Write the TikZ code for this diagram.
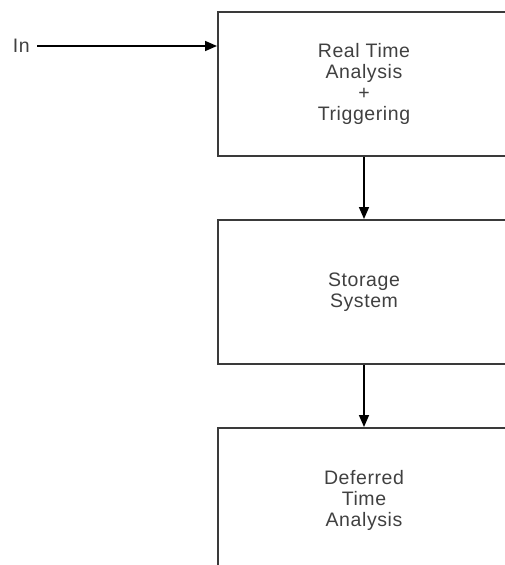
\documentclass[tikz,border=0pt]{standalone}
\usepackage{fontspec}
\setmainfont[LetterSpace=3]{Liberation Sans}
\usetikzlibrary{arrows.meta}
\definecolor{boxline}{HTML}{3A3A3A}
\definecolor{txt}{HTML}{404040}
\begin{document}
\begin{tikzpicture}[x=1pt,y=-1pt,
  blockbox/.style={draw=boxline,line width=2pt,minimum width=292pt,minimum height=144pt,
    inner sep=0pt,align=center,text=txt,font=\fontsize{19.5}{21}\selectfont},
  flow/.style={draw=black,line width=1.6pt,-{Triangle[length=12pt,width=10pt]}}]
\useasboundingbox (0,0) rectangle (505,565);
\clip (0,0) rectangle (505,565);
\node[blockbox] (rta) at (364,84) {Real Time\\Analysis\\+\\Triggering};
\node[blockbox] (sto) at (364,292) {Storage\\System};
\node[blockbox] (dta) at (364,500) {Deferred\\Time\\Analysis};
\node[text=txt,font=\fontsize{19.5}{21}\selectfont,anchor=east,inner sep=0pt] (in) at (30,46) {In};
\coordinate (inend) at (37,46);
\draw[flow] (inend) -- (rta.west |- inend);
\draw[flow] (rta.south) -- (sto.north);
\draw[flow] (sto.south) -- (dta.north);
\end{tikzpicture}
\end{document}
